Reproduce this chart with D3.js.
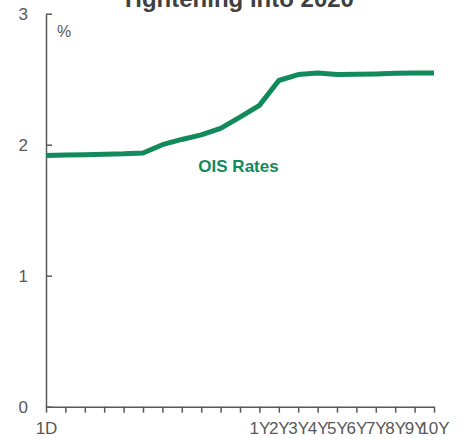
<!DOCTYPE html>
<html>
<head>
<meta charset="utf-8">
<script src="https://cdn.jsdelivr.net/npm/d3@7/dist/d3.min.js"></script>
<style>
  html, body { margin: 0; padding: 0; background: #ffffff; }
  svg { display: block; font-family: "Liberation Sans", Arial, sans-serif; }
</style>
</head>
<body>
<div id="chart"></div>
<script>
const categories = ["1D","1W","2W","3W","1M","2M","3M","4M","5M","6M","9M","1Y","2Y","3Y","4Y","5Y","6Y","7Y","8Y","9Y","10Y"];
const tickLabels = ["1D","","","","","","","","","","","1Y","2Y","3Y","4Y","5Y","6Y","7Y","8Y","9Y","10Y"];
const oisRates = [1.918, 1.921, 1.924, 1.927, 1.930, 1.937, 2.00, 2.04, 2.075, 2.125, 2.21, 2.30, 2.49, 2.535, 2.548, 2.535, 2.537, 2.540, 2.545, 2.548, 2.548];
const yTicks = [0, 1, 2, 3];
const titleText = "Tightening into 2020";
const unitText = "%";
const seriesLabel = "OIS Rates";

const W = 466, H = 437;
const svg = d3.select("#chart").append("svg").attr("width", W).attr("height", H);

const x = d3.scalePoint().domain(categories).range([46, 434]);
const y = d3.scaleLinear().domain([0, 3]).range([406.7, 13.7]);

const axisColor = "#595959";
const green = "#128A5B";

// Title
svg.append("text")
  .attr("x", 237.5).attr("y", 7)
  .attr("text-anchor", "middle")
  .attr("font-size", 24).attr("font-weight", "bold")
  .attr("fill", "#404040")
  .text(titleText);

// Y axis
const yAxis = svg.append("g").attr("transform", `translate(${x(categories[0])},0)`)
  .call(d3.axisLeft(y).tickValues(yTicks).tickSizeInner(-6).tickSizeOuter(0).tickPadding(18).tickFormat(d3.format("d")));
yAxis.select(".domain").attr("stroke", axisColor).attr("stroke-width", 1.5);
yAxis.selectAll(".tick line").attr("stroke", axisColor).attr("stroke-width", 1.5);
yAxis.selectAll(".tick text").attr("fill", axisColor).attr("font-size", 17)
  .attr("font-family", '"Liberation Sans", Arial, sans-serif');

// X axis
const xAxis = svg.append("g").attr("transform", `translate(0,${y(0)})`)
  .call(d3.axisBottom(x).tickSizeInner(6).tickSizeOuter(0).tickPadding(9)
    .tickFormat((d, i) => tickLabels[i]));
xAxis.select(".domain").attr("stroke", axisColor).attr("stroke-width", 1.5);
xAxis.selectAll(".tick line").attr("stroke", axisColor).attr("stroke-width", 1.5);
xAxis.selectAll(".tick text").attr("fill", axisColor).attr("font-size", 17)
  .attr("font-family", '"Liberation Sans", Arial, sans-serif');

// unit
svg.append("text")
  .attr("x", 57).attr("y", 37)
  .attr("font-size", 16).attr("fill", axisColor)
  .text(unitText);

// Line
const line = d3.line().x((d, i) => x(categories[i])).y(d => y(d));
svg.append("path")
  .datum(oisRates)
  .attr("fill", "none")
  .attr("stroke", green)
  .attr("stroke-width", 5)
  .attr("stroke-linejoin", "round")
  .attr("d", line);

// Series label
svg.append("text")
  .attr("x", 238.5).attr("y", 172.3)
  .attr("text-anchor", "middle")
  .attr("font-size", 17).attr("font-weight", "bold")
  .attr("fill", green)
  .text(seriesLabel);
</script>
</body>
</html>
